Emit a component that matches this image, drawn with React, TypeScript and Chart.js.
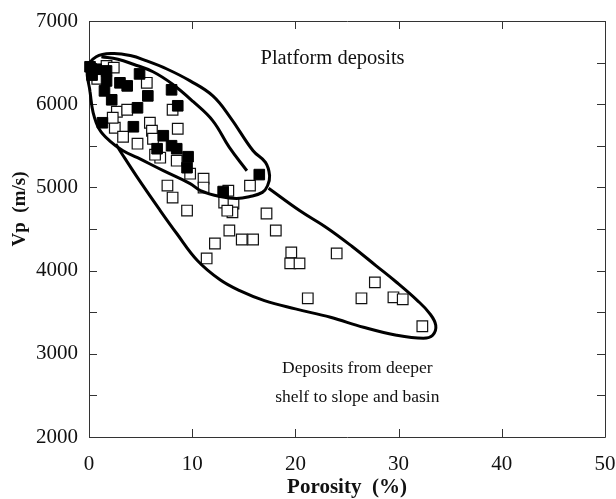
import React, { useEffect, useRef } from 'react';
import { Chart, registerables } from 'chart.js';

Chart.register(...registerables);

const SERIF = "'Liberation Serif', 'Times New Roman', Times, serif";

// Axis ticks
const xTickValues = [0, 10, 20, 30, 40, 50];
const yTickValues = [2000, 3000, 4000, 5000, 6000, 7000];
const yMinorTickValues = [2500, 3500, 4500, 5500, 6500];

// Platform samples (filled squares): [porosity %, Vp m/s]
const platformPorosity = [0.1, 0.7, 0.3, 1.7, 1.7, 1.5, 3.0, 3.7, 4.9, 5.7, 2.2, 4.7, 8.0, 8.6, 1.3, 4.3, 7.2, 6.6, 8.0, 8.5, 9.6, 9.5, 13.0, 16.5];
const platformVp = [6450, 6420, 6350, 6400, 6280, 6160, 6257, 6220, 6364, 6100, 6053, 5957, 6173, 5981, 5777, 5729, 5621, 5465, 5501, 5465, 5369, 5237, 4950, 5154];

// Deeper shelf / slope / basin samples (open squares)
const deeperPorosity = [1.7, 2.4, 5.6, 2.7, 3.7, 8.1, 5.9, 6.1, 2.5, 3.3, 4.7, 6.2, 8.6, 6.9, 8.5, 0.8, 2.3,
  6.4, 9.8, 11.1, 11.1, 13.1, 7.6, 8.1, 9.5, 12.2, 11.4, 13.6,
  15.6, 13.5, 14.0, 13.9, 13.4, 17.2, 18.1, 14.8, 15.9, 19.6, 19.5, 20.4, 24.0,
  27.7, 26.4, 29.5, 30.4, 32.3, 21.2];
const deeperVp = [6460, 6440, 6257, 5909, 5933, 5933, 5777, 5681, 5717, 5609, 5525, 5585, 5705, 5357, 5321, 6305, 5837,
  5393, 5165, 5105, 4998, 4818, 5022, 4878, 4722, 4326, 4146, 4482,
  5021, 4960, 4805, 4700, 4720, 4686, 4482, 4374, 4374, 4218, 4087, 4087, 4206,
  3859, 3667, 3679, 3655, 3331, 3667];

// Hand-drawn envelopes (closed / open outlines), in data units
const platformEnvelopeX = [0.1, -0.15, 0.7, 2.3, 4.0, 5.6, 7.6, 9.8, 12.0, 13.7, 15.9, 17.1, 17.5, 17.3, 16.8, 15.6, 14.3, 12.7, 10.8, 9.8, 7.2, 4.7, 3.3, 2.0, 1.0, 0.4, 0.1];
const platformEnvelopeY = [6150, 6430, 6570, 6610, 6585, 6520, 6420, 6280, 6100, 5840, 5440, 5300, 5140, 5020, 4940, 4890, 4866, 4890, 4962, 5046, 5201, 5357, 5441, 5560, 5700, 5900, 6150];

const innerLineX = [1.2, 2.8, 4.3, 6.2, 8.1, 10.1, 12.0, 13.6, 15.3];
const innerLineY = [6570, 6540, 6480, 6390, 6240, 6030, 5800, 5480, 5200];

const deeperEnvelopeX = [17.4, 20.4, 23.1, 25.5, 27.8, 29.8, 31.8, 33.0, 33.6, 33.3, 32.4, 29.8, 26.6, 23.4, 20.0, 17.0, 14.6, 12.7, 10.5, 8.5, 6.9, 4.7, 3.0, 2.6];
const deeperEnvelopeY = [4990, 4722, 4510, 4290, 4060, 3860, 3643, 3487, 3343, 3223, 3187, 3223, 3319, 3439, 3540, 3640, 3760, 3890, 4122, 4446, 4722, 5117, 5441, 5520];

// Annotations
const annotationTexts = [
  { lines: ['Platform deposits'], x: 23.6, y: 6550, size: 20.5 },
  { lines: ['Deposits from deeper', 'shelf to slope and basin'], x: 26.0, y: 2820, size: 17.5 },
];

const zip = (xs: number[], ys: number[]) => xs.map((x, i) => ({ x, y: ys[i] }));

const framePlugin = {
  id: 'frameAndText',
  beforeDatasetsDraw(chart: any) {
    const { ctx, chartArea: a, scales } = chart;
    const xs = scales.x;
    const ys = scales.y;
    ctx.save();
    ctx.strokeStyle = '#333';
    ctx.lineWidth = 1;
    ctx.beginPath();
    ctx.rect(Math.round(a.left) + 0.5, Math.round(a.top) + 0.5, Math.round(a.right - a.left), Math.round(a.bottom - a.top));
    ctx.stroke();
    const tl = 8;
    ctx.beginPath();
    xTickValues.forEach((v) => {
      const px = Math.round(xs.getPixelForValue(v)) + 0.5;
      ctx.moveTo(px, a.bottom);
      ctx.lineTo(px, a.bottom - tl);
      ctx.moveTo(px, a.top);
      ctx.lineTo(px, a.top + tl);
    });
    [...yTickValues, ...yMinorTickValues].forEach((v) => {
      const py = Math.round(ys.getPixelForValue(v)) + 0.5;
      ctx.moveTo(a.left, py);
      ctx.lineTo(a.left + tl, py);
      ctx.moveTo(a.right, py);
      ctx.lineTo(a.right - tl, py);
    });
    ctx.stroke();
    ctx.restore();
  },
  afterDatasetsDraw(chart: any) {
    const { ctx, chartArea: a, scales } = chart;
    const xs = scales.x;
    const ys = scales.y;
    ctx.save();
    ctx.fillStyle = '#111';
    ctx.textAlign = 'center';
    ctx.textBaseline = 'middle';
    annotationTexts.forEach((t) => {
      ctx.font = `${t.size}px ${SERIF}`;
      const px = xs.getPixelForValue(t.x);
      const py = ys.getPixelForValue(t.y);
      t.lines.forEach((line, i) => ctx.fillText(line, px, py + i * 29));
    });
    // y-axis title
    ctx.font = `bold 19px ${SERIF}`;
    ctx.translate(20, (a.top + a.bottom) / 2 - 20);
    ctx.rotate(-Math.PI / 2);
    ctx.fillText('Vp  (m/s)', 0, 0);
    ctx.restore();
  },
};

export default function App() {
  const canvasRef = useRef<HTMLCanvasElement | null>(null);

  useEffect(() => {
    const canvas = canvasRef.current;
    if (!canvas) return;
    const lineStyle = {
      type: 'line' as const,
      showLine: true,
      borderColor: '#000',
      borderWidth: 3,
      pointRadius: 0,
      tension: 0.4,
      fill: false,
      clip: false as const,
      order: 0,
    };
    const chart = new Chart(canvas, {
      type: 'scatter',
      data: {
        datasets: [
          { ...lineStyle, label: 'Platform envelope', data: zip(platformEnvelopeX, platformEnvelopeY) } as any,
          { ...lineStyle, label: 'Inner line', data: zip(innerLineX, innerLineY) } as any,
          { ...lineStyle, label: 'Deeper envelope', data: zip(deeperEnvelopeX, deeperEnvelopeY) } as any,
          {
            label: 'Platform deposits',
            data: zip(platformPorosity, platformVp),
            pointStyle: 'rect',
            pointRadius: 7.5,
            backgroundColor: '#000',
            borderColor: '#000',
            borderWidth: 1,
            clip: false,
            order: 1,
          },
          {
            label: 'Deeper deposits',
            data: zip(deeperPorosity, deeperVp),
            pointStyle: 'rect',
            pointRadius: 7.5,
            backgroundColor: '#fff',
            borderColor: '#111',
            borderWidth: 1.2,
            clip: false,
            order: 2,
          },
        ],
      },
      options: {
        animation: false,
        responsive: false,
        events: [],
        layout: { padding: { top: 21, right: 11, left: 0, bottom: 0 } },
        plugins: { legend: { display: false }, tooltip: { enabled: false } },
        scales: {
          x: {
            type: 'linear',
            min: 0,
            max: 50,
            afterBuildTicks: (s: any) => {
              s.ticks = xTickValues.map((v) => ({ value: v }));
            },
            ticks: {
              font: { family: SERIF, size: 21 },
              color: '#111',
              padding: 15,
              maxRotation: 0,
              autoSkip: false,
              callback: (v: any) => String(v),
            },
            grid: { display: false, drawTicks: false },
            border: { display: false },
            title: {
              display: true,
              text: 'Porosity  (%)',
              color: '#111',
              font: { family: SERIF, size: 21, weight: 'bold', lineHeight: 1 },
              padding: { top: 0, bottom: 1 },
            },
            afterFit: (s: any) => {
              s.height = 62;
              s.paddingLeft = 0;
              s.paddingRight = 0;
            },
          },
          y: {
            type: 'linear',
            min: 2000,
            max: 7000,
            afterBuildTicks: (s: any) => {
              s.ticks = yTickValues.map((v) => ({ value: v }));
            },
            ticks: {
              font: { family: SERIF, size: 21 },
              color: '#111',
              padding: 11,
              callback: (v: any) => String(v),
            },
            grid: { display: false, drawTicks: false },
            border: { display: false },
            afterFit: (s: any) => {
              s.width = 89;
              s.paddingTop = 0;
              s.paddingBottom = 0;
            },
          },
        },
      } as any,
      plugins: [framePlugin],
    });
    return () => chart.destroy();
  }, []);

  return (
    <div style={{ position: 'fixed', left: 0, top: 0, width: 616, height: 499 }}>
      <canvas ref={canvasRef} width={616} height={499} style={{ display: 'block' }} />
    </div>
  );
}
